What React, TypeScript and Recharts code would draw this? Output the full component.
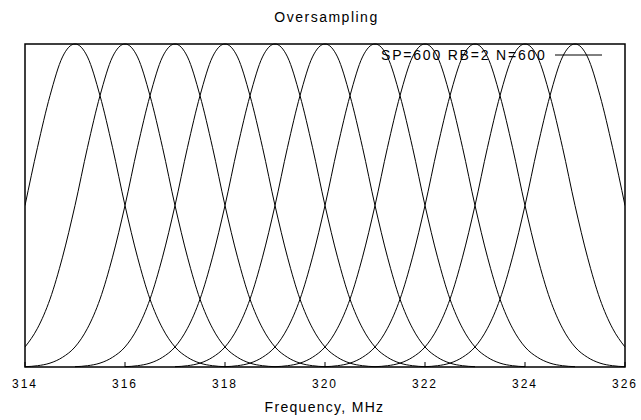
import { LineChart, Line, XAxis, YAxis, ReferenceArea } from 'recharts';

// centre frequencies of the channels (MHz)
const centers = [315, 316, 317, 318, 319, 320, 321, 322, 323, 324, 325];
// offset from the centre (MHz) and the height
const offsets = [0, 0.25, 0.5, 0.75, 1, 1.25, 1.5, 1.75, 2, 2.25, 2.5, 2.75, 3];
const profile = [1, 0.96, 0.84, 0.68, 0.5, 0.34, 0.21, 0.12, 0.062, 0.03, 0.012, 0.004, 0.001];
const xTicks = [314, 316, 318, 320, 322, 324, 326];
const legendText = 'SP=600 RB=2 N=600';

const X_MIN = 314;
const X_MAX = 326;

function curve(c: number) {
  const pts: { x: number; y: number }[] = [];
  for (let i = offsets.length - 1; i > 0; i--) pts.push({ x: c - offsets[i], y: profile[i] });
  for (let i = 0; i < offsets.length; i++) pts.push({ x: c + offsets[i], y: profile[i] });
  return pts.filter((p) => p.x >= X_MIN && p.x <= X_MAX);
}

const FONT = '"Liberation Sans", Arial, sans-serif';

const Tick = (props: any) => {
  const { x, y, payload } = props;
  return (
    <g>
      <line x1={x} y1={y} x2={x} y2={y - 5} stroke="#000" />
      <text x={x} y={y + 21} textAnchor="middle" fontSize={12} letterSpacing={2} fontFamily={FONT} fill="#000">
        {payload.value}
      </text>
    </g>
  );
};

export default function App() {
  return (
    <div style={{ position: 'absolute', left: 0, top: 0, width: 641, height: 420, background: '#fff' }}>
      <div style={{ position: 'absolute', top: 9, width: 641, textAlign: 'center', fontFamily: FONT, fontSize: 14, letterSpacing: 1.5, paddingLeft: 6 }}>
        Oversampling
      </div>
      <LineChart width={641} height={420} margin={{ top: 44, right: 16, bottom: 8, left: 25 }}>
        <XAxis
          type="number"
          dataKey="x"
          domain={[X_MIN, X_MAX]}
          ticks={xTicks}
          tickSize={0}
          tickMargin={0}
          tickLine={false}
          height={45}
          axisLine={false}
          tick={<Tick />}
          allowDataOverflow
        />
        <YAxis type="number" domain={[0, 1]} width={0} tick={false} tickLine={false} axisLine={false} />
        <ReferenceArea x1={X_MIN} x2={X_MAX} y1={0} y2={1} fill="none" stroke="#000" strokeWidth={1.5} ifOverflow="visible" />
        {centers.map((c) => (
          <Line
            key={c}
            data={curve(c)}
            dataKey="y"
            type="monotone"
            stroke="#000"
            strokeWidth={1}
            dot={false}
            isAnimationActive={false}
            legendType="none"
          />
        ))}
      </LineChart>
      <div style={{ position: 'absolute', top: 47, left: 381, display: 'flex', alignItems: 'center', fontFamily: FONT, fontSize: 14, letterSpacing: 1.8, color: '#000' }}>
        <span>{legendText}</span>
        <svg width={50} height={10} style={{ marginLeft: 8 }}>
          <line x1={0} y1={5} x2={47} y2={5} stroke="#000" />
        </svg>
      </div>
      <div style={{ position: 'absolute', top: 399, width: 641, textAlign: 'center', fontFamily: FONT, fontSize: 14, letterSpacing: 1.3, paddingLeft: 4 }}>
        Frequency, MHz
      </div>
    </div>
  );
}
